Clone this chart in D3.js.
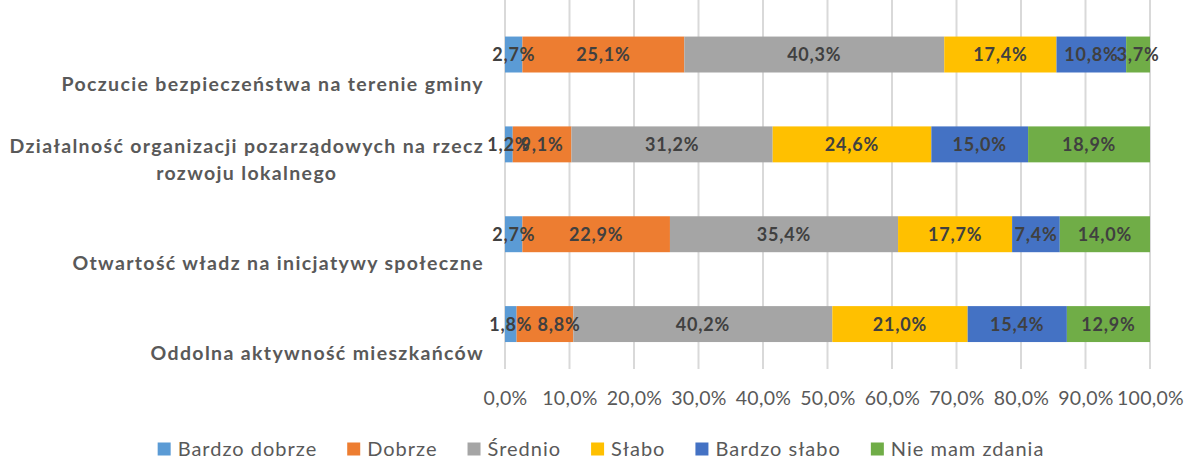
<!DOCTYPE html>
<html><head><meta charset="utf-8">
<script src="https://cdn.jsdelivr.net/npm/d3@7"></script>
<style>body{margin:0;background:#fff}svg{display:block}text{font-family:Lato,"Noto Sans",sans-serif}</style>
</head><body>
<svg id="c" width="1195" height="459"></svg>
<script>
const categories = [
  "Poczucie bezpieczeństwa na terenie gminy",
  "Działalność organizacji pozarządowych na rzecz\nrozwoju lokalnego",
  "Otwartość władz na inicjatywy społeczne",
  "Oddolna aktywność mieszkańców"
];
const seriesNames = ["Bardzo dobrze","Dobrze","Średnio","Słabo","Bardzo słabo","Nie mam zdania"];
const bardzoDobrze = [2.7, 1.2, 2.7, 1.8];
const dobrze       = [25.1, 9.1, 22.9, 8.8];
const srednio      = [40.3, 31.2, 35.4, 40.2];
const slabo        = [17.4, 24.6, 17.7, 21.0];
const bardzoSlabo  = [10.8, 15.0, 7.4, 15.4];
const nieMamZdania = [3.7, 18.9, 14.0, 12.9];
const tickValues = [0,0.1,0.2,0.3,0.4,0.5,0.6,0.7,0.8,0.9,1.0];
const colors = ["#5b9bd5","#ed7d31","#a5a5a5","#ffc000","#4472c4","#70ad47"];

const seriesValues = [bardzoDobrze, dobrze, srednio, slabo, bardzoSlabo, nieMamZdania];
const rows = categories.map((c,i)=>{const o={cat:c}; seriesNames.forEach((s,j)=>o[s]=seriesValues[j][i]); return o;});

const loc = d3.formatLocale({decimal:",",thousands:" ",grouping:[3],currency:["","zł"]});
const pct = loc.format(".1%");
const lab = v => loc.format(".1f")(v) + "%";

const svg = d3.select("#c");
const x = d3.scaleLinear().domain([0,1]).range([505,1150]);
const y = d3.scaleBand().domain(categories).range([9.6,369]).paddingInner(0.6).paddingOuter(0.3);

// gridlines
svg.append("g").selectAll("line").data(tickValues).join("line")
  .attr("x1",d=>x(d)).attr("x2",d=>x(d)).attr("y1",0).attr("y2",369)
  .attr("stroke","#d9d9d9").attr("stroke-width",2);

const stack = d3.stack().keys(seriesNames).offset(d3.stackOffsetExpand);
const stacked = stack(rows);

const g = svg.append("g");
stacked.forEach((s,si)=>{
  g.append("g").attr("fill",colors[si]).selectAll("rect").data(s).join("rect")
    .attr("x",d=>x(d[0])).attr("width",d=>x(d[1])-x(d[0]))
    .attr("y",d=>y(d.data.cat)).attr("height",y.bandwidth());
});
stacked.forEach((s,si)=>{
  g.append("g").selectAll("text").data(s).join("text")
    .attr("x",(d,i)=>(x(d[0])+x(d[1]))/2 + (si===1 && i===3 ? 14 : 0))
    .attr("y",d=>y(d.data.cat)+y.bandwidth()/2)
    .attr("dy","0.36em").attr("text-anchor","middle")
    .attr("font-size",18).attr("letter-spacing",0.8).attr("font-weight","bold").attr("fill","#404040")
    .text(d=>lab(d.data[seriesNames[si]]));
});

// x axis tick labels
const xa = svg.append("g").attr("transform","translate(0,398)")
  .call(d3.axisBottom(x).tickValues(tickValues).tickFormat(pct).tickSize(0).tickPadding(0));
xa.select(".domain").remove();
xa.selectAll("text").attr("font-size",19.5).attr("letter-spacing",0.3).attr("fill","#595959").attr("dy","0.36em").attr("font-family","Lato");

// category labels
const cl = svg.append("g");
categories.forEach(c=>{
  const lines = c.split("\n");
  const t = cl.append("text").attr("font-size",19.5).attr("letter-spacing",1.35).attr("font-weight","bold").attr("fill","#595959").attr("text-anchor","middle");
  const cy = y(c)+y.bandwidth()/2 + 29;
  lines.forEach((ln,i)=>{
    t.append("tspan").attr("y",cy-(lines.length-1-i)*27).attr("dy","0.36em").text(ln);
  });
  let w=0; t.selectAll("tspan").each(function(){w=Math.max(w,this.getComputedTextLength());});
  t.selectAll("tspan").attr("x",484-w/2);
});

// legend
const lg = svg.append("g");
let lx = 0;
seriesNames.forEach((s,i)=>{
  const it = lg.append("g");
  it.append("rect").attr("x",0).attr("y",-6.5).attr("width",13).attr("height",13).attr("fill",colors[i]);
  const tt = it.append("text").attr("x",20).attr("dy","0.36em").attr("font-size",20).attr("letter-spacing",1).attr("fill","#595959").text(s);
  const w = 20 + tt.node().getComputedTextLength();
  it.attr("transform",`translate(${lx},449)`);
  lx += w + 30;
});
const total = lx - 30;
lg.attr("transform",`translate(${601-total/2},0)`);
</script>
</body></html>
